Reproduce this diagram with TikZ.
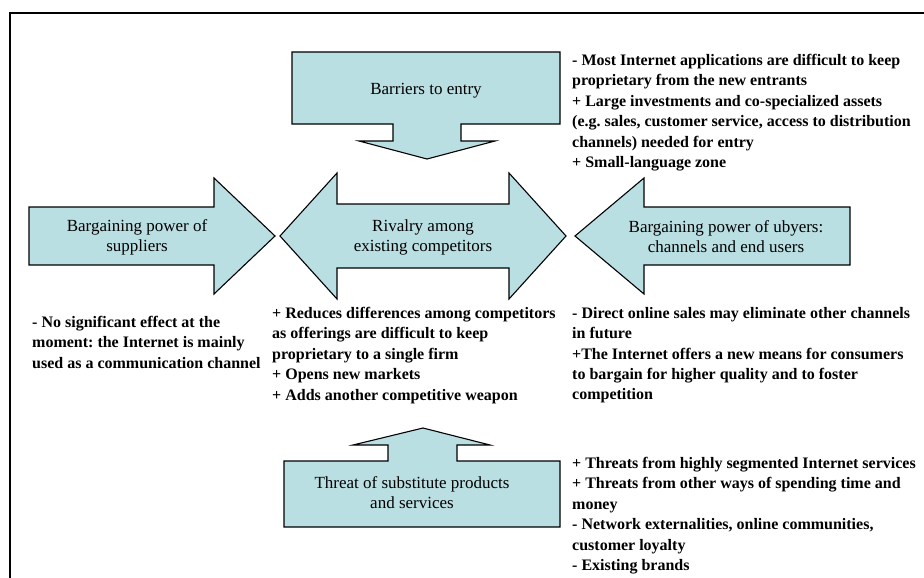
\documentclass[tikz,border=0pt]{standalone}
\usepackage{fontspec}
\setmainfont{Liberation Serif}
\frenchspacing
\definecolor{arrowfill}{RGB}{186,223,227}
\tikzset{
  force/.style={fill=arrowfill, draw=black, line width=1.1pt, line join=miter},
  forcelabel/.style={align=center, inner sep=0pt, font=\fontsize{17}{20}\selectfont},
  effects/.style={align=left, anchor=north west, inner sep=0pt,
    font=\fontsize{16}{20.4}\selectfont\bfseries},
}
\begin{document}
\begin{tikzpicture}[x=1pt, y=-1pt]
\useasboundingbox (0,0) rectangle (924,578);
% frame
\draw[line width=2pt] (10,578) -- (10,13) -- (924,13);

% barriers to entry (down arrow)
\filldraw[force] (292,52) -- (560,52) -- (560,124) -- (461,124) -- (461,141)
  -- (495,141) -- (427,159) -- (359,141) -- (393,141) -- (393,124) -- (292,124) -- cycle;
% bargaining power of suppliers (right arrow)
\filldraw[force] (29,207) -- (214,207) -- (214,178) -- (275,236) -- (214,294)
  -- (214,265) -- (29,265) -- cycle;
% rivalry (double arrow)
\filldraw[force] (280,236) -- (337,173) -- (337,204) -- (509,204) -- (509,173)
  -- (566,236) -- (509,299) -- (509,268) -- (337,268) -- (337,299) -- cycle;
% bargaining power of buyers (left arrow)
\filldraw[force] (575,236) -- (644,178) -- (644,207) -- (850,207) -- (850,265)
  -- (644,265) -- (644,294) -- cycle;
% threat of substitutes (up arrow)
\filldraw[force] (284,461) -- (388,461) -- (388,445) -- (353,445) -- (423,428)
  -- (490,445) -- (457,445) -- (457,461) -- (560,461) -- (560,527) -- (284,527) -- cycle;

% arrow labels
\node[forcelabel] (barriers) at (426,91) {Barriers to entry};
\node[forcelabel] (suppliers) at (137,237) {Bargaining power of\\suppliers};
\node[forcelabel] (rivalry) at (423,237) {Rivalry among\\existing competitors};
\node[forcelabel] (buyers) at (726,237) {Bargaining power of ubyers:\\channels and end users};
\node[forcelabel] (substitutes) at (412,493) {Threat of substitute products\\and services};

% effects of the Internet on each force
\node[effects] (barriersfx) at (572,54) {- Most Internet applications are difficult to keep\\
proprietary from the new entrants\\
+ Large investments and co-specialized assets\\
(e.g. sales, customer service, access to distribution\\
channels) needed for entry\\
+ Small-language zone};
\node[effects] (suppliersfx) at (32,316) {- No significant effect at the\\
moment: the Internet is mainly\\
used as a communication channel};
\node[effects] (rivalryfx) at (272,307) {+ Reduces differences among competitors\\
as offerings are difficult to keep\\
proprietary to a single firm\\
+ Opens new markets\\
+ Adds another competitive weapon};
\node[effects] (buyersfx) at (572,307) {- Direct online sales may eliminate other channels\\
in future\\
+The Internet offers a new means for consumers\\
to bargain for higher quality and to foster\\
competition};
\node[effects] (substitutesfx) at (572,457) {+ Threats from highly segmented Internet services\\
+ Threats from other ways of spending time and\\
money\\
- Network externalities, online communities,\\
customer loyalty\\
- Existing brands};
\end{tikzpicture}
\end{document}
